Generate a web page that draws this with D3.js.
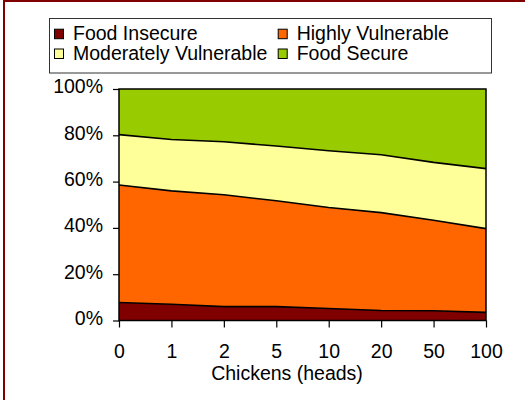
<!DOCTYPE html>
<html><head><meta charset="utf-8">
<script src="https://cdn.jsdelivr.net/npm/d3@7"></script>
<style>html,body{margin:0;padding:0;background:#fff;}svg{display:block;font-family:"Liberation Sans",Arial,sans-serif;}</style>
</head><body>
<svg id="c" width="525" height="400"></svg>
<script>
const categories = ["0","1","2","5","10","20","50","100"];
const seriesNames = ["Food Insecure","Highly Vulnerable","Moderately Vulnerable","Food Secure"];
const foodInsecure = [7.8, 7.0, 6.0, 6.0, 5.2, 4.3, 4.2, 3.5];
const highlyVulnerable = [50.7, 49.0, 48.3, 45.7, 43.6, 42.3, 39.1, 36.2];
const moderatelyVulnerable = [21.8, 22.2, 22.9, 23.7, 24.5, 25.0, 25.0, 25.9];
const foodSecure = [19.7, 21.8, 22.8, 24.6, 26.7, 28.4, 31.7, 34.4];
const yTicks = [0, 20, 40, 60, 80, 100];
const colors = ["#800000", "#FF6600", "#FFFF99", "#99CC00"];

const FS = "19.5px";
const svg = d3.select("#c");
const pLeft = 119, pRight = 486, pTop = 89, pBottom = 320.5;

svg.append("rect").attr("x",4).attr("y",1).attr("width",560).attr("height",440)
  .attr("fill","none").attr("stroke","#800000").attr("stroke-width",2);

const data = categories.map((c,i)=>({cat:c, "Food Insecure":foodInsecure[i], "Highly Vulnerable":highlyVulnerable[i],
  "Moderately Vulnerable":moderatelyVulnerable[i], "Food Secure":foodSecure[i]}));
const stacked = d3.stack().keys(seriesNames).offset(d3.stackOffsetExpand)(data);

const x = d3.scalePoint().domain(categories).range([pLeft, pRight]);
const y = d3.scaleLinear().domain([0, 1]).range([pBottom, pTop]);

const area = d3.area().x(d=>x(d.data.cat)).y0(d=>y(d[0])).y1(d=>y(d[1]));
const line = d3.line().x(d=>x(d.data.cat)).y(d=>y(d[1]));

svg.append("g").selectAll("path").data(stacked).join("path")
  .attr("d", area).attr("fill",(d,i)=>colors[i]).attr("stroke","none");
svg.append("g").selectAll("path").data(stacked.slice(0,3)).join("path")
  .attr("d", line).attr("fill","none").attr("stroke","#000").attr("stroke-width",1.6);

svg.append("rect").attr("x",pLeft).attr("y",pTop).attr("width",pRight-pLeft).attr("height",pBottom-pTop)
  .attr("fill","none").attr("stroke","#000").attr("stroke-width",1.5);

const yAxis = svg.append("g").attr("transform",`translate(${pLeft},0)`)
  .call(d3.axisLeft(y).tickValues(yTicks.map(v=>v/100)).tickSize(6).tickPadding(10).tickFormat(d=>Math.round(d*100)+"%"));
yAxis.select(".domain").remove();
yAxis.selectAll("line").attr("stroke","#000").attr("stroke-width",1.2);
yAxis.selectAll("text").attr("font-size",FS).attr("fill","#000").attr("dy","0.2em")
  .attr("font-family","'Liberation Sans',Arial,sans-serif");

const xAxis = svg.append("g").attr("transform",`translate(0,${pBottom})`)
  .call(d3.axisBottom(x).tickSize(7).tickPadding(16.2));
xAxis.select(".domain").remove();
xAxis.selectAll("line").attr("stroke","#000").attr("stroke-width",1.2);
xAxis.selectAll("text").attr("font-size",FS).attr("fill","#000")
  .attr("font-family","'Liberation Sans',Arial,sans-serif");

svg.append("text").attr("x",287).attr("y",379.6).attr("text-anchor","middle")
  .attr("font-size",FS).text("Chickens (heads)");

const lg = svg.append("g");
lg.append("rect").attr("x",49.5).attr("y",18.5).attr("width",442).attr("height",54.5)
  .attr("fill","#fff").attr("stroke","#333").attr("stroke-width",1);
const pos = [[54,28.7,40],[277.7,28.7,40],[54,48.5,60],[277.7,48.5,60]];
seriesNames.forEach((name,k)=>{
  const p = pos[k];
  lg.append("rect").attr("x",p[0]+0.5).attr("y",p[1]+0.5).attr("width",9).attr("height",9.5)
    .attr("fill",colors[k]).attr("stroke","#000").attr("stroke-width",1);
  lg.append("text").attr("x",p[0]+19).attr("y",p[2]).attr("font-size",FS).text(name);
});
</script>
</body></html>
